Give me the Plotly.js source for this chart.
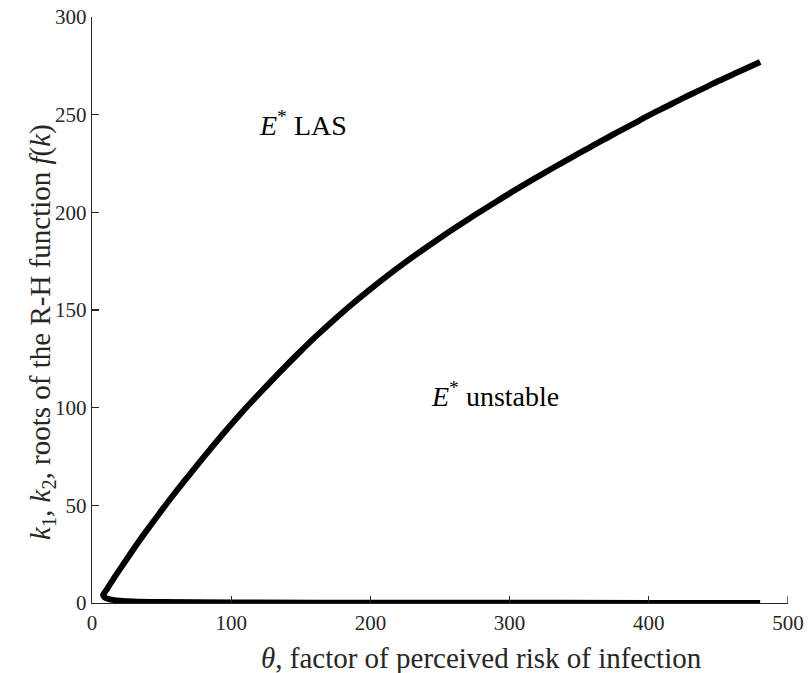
<!DOCTYPE html>
<html>
<head>
<meta charset="utf-8">
<script src="https://cdn.plot.ly/plotly-3.0.1.min.js"></script>
<style>html,body{margin:0;padding:0;background:#fff;}#chart{width:812px;height:673px;}</style>
</head>
<body>
<div id="chart"></div>
<script>
// Upper branch (k1)
var thetaUpper = [8, 9, 10, 12, 15, 20, 27, 35, 42, 50, 58, 67, 76, 85, 95, 106, 115, 125, 136, 148, 161, 175, 187, 200, 213, 226, 238, 250, 262, 275, 288, 300, 312, 325, 337, 350, 362, 375, 387, 400, 412, 425, 437, 450, 465, 480];
var kUpper     = [4.2, 5.3, 6.3, 8.5, 11.9, 17.2, 24.6, 32.9, 39.7, 47.4, 54.9, 63.0, 71.0, 78.8, 87.3, 96.3, 103.3, 110.8, 119.0, 127.6, 136.6, 145.7, 153.1, 160.7, 168.0, 174.9, 181.0, 186.9, 192.6, 198.6, 204.4, 209.7, 214.8, 220.2, 225.1, 230.3, 235.0, 240.1, 244.6, 249.6, 253.9, 258.6, 262.7, 267.2, 272.1, 277.0];
// Lower branch (k2)
var thetaLower = [8, 8.5, 9, 10, 12, 15, 20, 30, 50, 100, 200, 300, 400, 480];
var kLower     = [4.2, 3.4, 3.0, 2.5, 2.0, 1.6, 1.2, 0.8, 0.5, 0.25, 0.12, 0.08, 0.06, 0.05];

var xTicks = [0, 100, 200, 300, 400, 500];
var yTicks = [0, 50, 100, 150, 200, 250, 300];

var xs = thetaLower.slice().reverse().concat(thetaUpper.slice(1));
var ys = kLower.slice().reverse().concat(kUpper.slice(1));

var font = 'Liberation Serif';
var ink = '#262626';

var traces = [{
  x: xs, y: ys, type: 'scatter', mode: 'lines',
  line: {color: '#000', width: 6, shape: 'spline', smoothing: 1},
  hoverinfo: 'skip', showlegend: false
}];

var axisCommon = {
  showgrid: false, zeroline: false, showline: true, linecolor: ink, linewidth: 1.3,
  ticks: 'inside', ticklen: 7, tickwidth: 1.3, tickcolor: ink,
  tickfont: {family: font, size: 21, color: ink}
};

var layout = {
  width: 812, height: 673,
  margin: {l: 92, r: 24, t: 17, b: 70},
  paper_bgcolor: '#fff', plot_bgcolor: '#fff',
  font: {family: font, color: '#000'},
  xaxis: Object.assign({}, axisCommon, {
    range: [0, 500], tickvals: xTicks, ticktext: xTicks.map(String)
  }),
  yaxis: Object.assign({}, axisCommon, {
    range: [0, 300], tickvals: yTicks, ticktext: yTicks.map(String)
  }),
  annotations: [
    {x: 0.559, y: -0.094, xref: 'paper', yref: 'paper', yanchor: 'middle',
     text: '<i>θ</i>, factor of perceived risk of infection', showarrow: false,
     font: {family: font, size: 29, color: ink}},
    {x: -0.1006, y: 0.4625, xref: 'paper', yref: 'paper', textangle: -90,
     text: '<i>k</i><sub>1</sub>, <i>k</i><sub>2</sub>, roots of the R-H function <i>f</i>(<i>k</i>)', showarrow: false,
     font: {family: font, size: 29, color: ink}},
    {x: 151.6, y: 245.5, xref: 'x', yref: 'y', text: '<i>E</i><sup>*</sup> LAS', showarrow: false,
     font: {family: font, size: 28, color: '#000'}},
    {x: 289.5, y: 106.5, xref: 'x', yref: 'y', text: '<i>E</i><sup>*</sup> unstable', showarrow: false,
     font: {family: font, size: 28, color: '#000'}}
  ],
  shapes: [
    {type: 'line', xref: 'x', yref: 'paper', x0: 500, x1: 500, y0: 0, y1: 0.012, line: {color: ink, width: 1.3}}
  ]
};

Plotly.newPlot('chart', traces, layout, {staticPlot: true, displayModeBar: false});
</script>
</body>
</html>
